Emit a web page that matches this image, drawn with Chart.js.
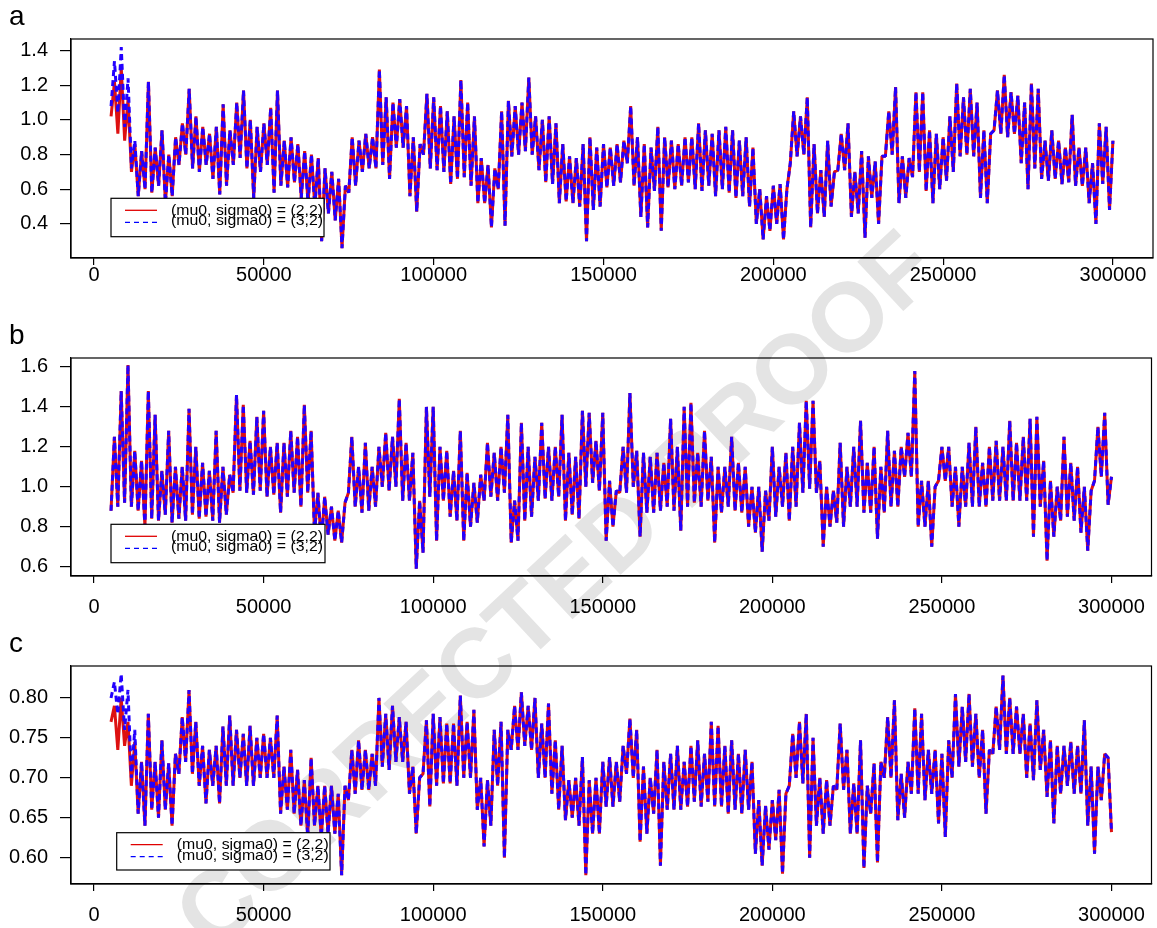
<!DOCTYPE html>
<html>
<head>
<meta charset="utf-8">
<script src="https://cdn.jsdelivr.net/npm/chart.js@4.4.1/dist/chart.umd.min.js"></script>
<style>
  html,body{margin:0;padding:0;background:#fff;}
  body{width:1157px;height:928px;position:relative;overflow:hidden;font-family:"Liberation Sans",Arial,sans-serif;}
  .panel{position:absolute;left:0;width:1157px;height:310px;z-index:1;}
  #watermark{position:absolute;left:555px;top:590px;transform:translate(-50%,-50%) rotate(-43deg);
    font:bold 98px "Liberation Sans",Arial,sans-serif;color:#e4e4e4;white-space:nowrap;z-index:0;}
</style>
</head>
<body>
<div id="watermark">CORRECTED PROOF</div>
<div class="panel" style="top:0px"><canvas id="chartA"></canvas></div>
<div class="panel" style="top:318px"><canvas id="chartB"></canvas></div>
<div class="panel" style="top:626px"><canvas id="chartC"></canvas></div>
<script>
// ================= DATA =================
// trace values, one every 1000 iterations (5000 .. 300000)
const iterStart = 5000;
const iterStep = 1000;
const nPoints = 296;
const iterations = Array.from({length:nPoints},(_,i)=>iterStart+i*iterStep);

const xTicks  = [0,50000,100000,150000,200000,250000,300000];
const yTicksA = [0.4,0.6,0.8,1.0,1.2,1.4];
const yTicksB = [0.6,0.8,1.0,1.2,1.4,1.6];
const yTicksC = [0.60,0.65,0.70,0.75,0.80];

const seriesLabels = ["(mu0, sigma0) = (2,2)","(mu0, sigma0) = (3,2)"];

// panel a -- the two chains only differ in the first 10000 iterations
const startA_22 = [1.02,1.22, 0.92,1.30, 0.88,1.12, 0.70,0.86, 0.56,0.82];
const startA_32 = [1.08,1.34, 1.04,1.42, 0.96,1.24, 0.72,0.88, 0.56,0.82];
const traceA = [
  0.60,1.22, 0.58,0.84, 0.62,0.94, 0.52,0.80, 0.56,0.90,
  0.74,0.98, 0.80,1.18, 0.72,1.02, 0.70,0.96, 0.74,0.92,
  0.66,0.96, 0.57,1.09, 0.62,0.94, 0.74,1.10, 0.78,1.17,
  0.72,1.00, 0.55,0.96, 0.70,0.98, 0.74,1.07, 0.58,1.17,
  0.62,0.88, 0.61,0.90, 0.64,0.86, 0.55,0.82, 0.52,0.80,
  0.50,0.78, 0.30,0.72, 0.46,0.70, 0.42,0.66, 0.26,0.62,
  0.58,0.90, 0.62,0.88, 0.70,0.92, 0.72,0.90, 0.72,1.29,
  0.74,1.13, 0.66,1.10, 0.84,1.12, 0.84,1.08, 0.56,0.90,
  0.47,0.86, 0.80,1.15, 0.72,1.13, 0.71,1.08, 0.70,1.05,
  0.63,1.02, 0.66,1.23, 0.67,1.10, 0.62,1.02, 0.52,0.78,
  0.52,0.74, 0.38,0.72, 0.60,1.05, 0.39,1.11, 0.79,1.08,
  0.80,1.10, 0.82,1.245,0.80,1.02, 0.71,1.00, 0.64,1.02,
  0.63,0.98, 0.52,0.86, 0.53,0.79, 0.52,0.78, 0.50,0.86,
  0.30,0.90, 0.48,0.84, 0.50,0.86, 0.61,0.84, 0.62,0.86,
  0.64,0.88, 0.75,1.08, 0.62,0.90, 0.44,0.86, 0.38,0.84,
  0.59,0.96, 0.36,0.90, 0.61,0.88, 0.60,0.86, 0.62,0.90,
  0.64,0.90, 0.60,0.98, 0.59,0.94, 0.62,0.92, 0.56,0.94,
  0.60,0.96, 0.58,0.94, 0.55,0.88, 0.56,0.90, 0.50,0.84,
  0.40,0.60, 0.31,0.56, 0.36,0.62, 0.40,0.63, 0.31,0.60,
  0.75,1.05, 0.79,1.02, 0.80,1.13, 0.38,0.86, 0.46,0.71,
  0.44,0.88, 0.50,0.70, 0.71,0.92, 0.71,0.98, 0.44,0.70,
  0.46,0.82, 0.32,0.79, 0.55,0.76, 0.40,0.79, 0.79,1.05,
  0.80,1.19, 0.52,0.79, 0.55,0.78, 0.67,1.16, 0.70,1.16,
  0.59,0.94, 0.52,0.92, 0.60,0.90, 0.65,1.02, 0.70,1.21,
  0.79,1.13, 0.80,1.18, 0.79,1.10, 0.55,0.94, 0.52,0.92,
  0.94,1.17, 0.92,1.26, 0.90,1.16, 0.92,1.14, 0.75,1.10,
  0.60,1.21, 0.72,1.18, 0.66,0.88, 0.65,0.94, 0.66,0.88,
  0.63,0.84, 0.64,1.03, 0.62,0.84, 0.62,0.84, 0.52,0.75,
  0.40,0.98, 0.63,0.96, 0.48,0.88
];

// panel b -- both chains overlap over the whole run
const traceB = [
  0.88,1.25, 0.90,1.48, 0.92,1.61, 0.90,1.18, 0.88,1.13,
  0.80,1.48, 0.84,1.36, 0.83,1.08, 0.86,1.28, 0.82,1.10,
  0.84,1.10, 0.83,1.39, 0.86,1.20, 0.84,1.12, 0.85,1.08,
  0.83,1.28, 0.82,1.10, 0.86,1.06, 0.97,1.46, 0.98,1.41,
  0.97,1.23, 0.96,1.35, 0.98,1.38, 0.95,1.20, 0.96,1.22,
  0.87,1.22, 0.95,1.28, 0.97,1.25, 0.90,1.41, 0.97,1.28,
  0.77,0.97, 0.72,0.95, 0.76,0.90, 0.73,0.88, 0.72,0.92,
  0.97,1.25, 0.90,1.10, 0.87,1.22, 0.88,1.10, 0.90,1.20,
  1.00,1.27, 0.98,1.25, 1.00,1.44, 0.93,1.22, 0.93,1.17,
  0.59,0.93, 0.67,1.40, 0.95,1.40, 0.73,1.20, 0.93,1.18,
  0.85,1.08, 0.83,1.28, 0.73,1.07, 0.80,1.02, 0.82,1.06,
  0.93,1.22, 0.95,1.17, 0.93,1.20, 0.97,1.36, 0.72,0.93,
  0.73,1.32, 0.83,1.20, 0.85,1.15, 0.93,1.32, 0.94,1.20,
  0.93,1.20, 0.95,1.36, 0.83,1.17, 0.86,1.15, 0.84,1.38,
  1.00,1.37, 1.02,1.23, 0.98,1.37, 0.73,1.03, 0.80,0.98,
  0.97,1.20, 0.97,1.47, 1.00,1.18, 0.75,1.17, 0.87,1.15,
  0.87,1.17, 0.88,1.12, 0.90,1.34, 0.88,1.20, 0.78,1.40,
  0.90,1.42, 0.92,1.17, 0.90,1.28, 0.93,1.15, 0.72,1.10,
  0.87,1.10, 0.90,1.25, 0.88,1.12, 0.87,1.10, 0.80,1.00,
  0.77,1.00, 0.675,0.98,0.83,1.20, 0.85,1.10, 0.90,1.17,
  0.83,1.20, 0.90,1.32, 0.97,1.43, 0.99,1.43, 0.97,1.13,
  0.70,1.00, 0.80,0.98, 0.82,1.22, 0.80,1.10, 0.90,1.20,
  0.90,1.33, 0.87,1.12, 0.87,1.20, 0.74,1.10, 0.87,1.28,
  0.90,1.18, 0.90,1.20, 1.05,1.27, 1.05,1.58, 0.80,1.03,
  0.80,1.03, 0.70,1.00, 1.03,1.20, 1.03,1.20, 0.90,1.10,
  0.80,1.10, 0.90,1.22, 0.90,1.30, 0.90,1.12, 0.90,1.20,
  0.93,1.23, 0.93,1.20, 0.93,1.33, 0.93,1.22, 0.93,1.25,
  0.93,1.34, 0.75,1.35, 0.90,1.13, 0.63,1.03, 0.75,1.00,
  0.83,1.25, 0.85,1.12, 0.83,1.10, 0.77,1.00, 0.68,0.98,
  1.03,1.30, 1.05,1.37, 0.91,1.05
];

// panel c -- chains differ in the first 10000 iterations
const startC_22 = [0.77,0.79, 0.735,0.80, 0.74,0.77, 0.69,0.745, 0.655,0.72];
const startC_32 = [0.80,0.82, 0.78,0.83, 0.76,0.81, 0.70,0.76, 0.655,0.72];
const traceC = [
  0.64,0.78, 0.66,0.72, 0.65,0.747, 0.66,0.718, 0.64,0.73,
  0.705,0.776, 0.72,0.81, 0.705,0.77, 0.69,0.74, 0.668,0.735,
  0.69,0.74, 0.668,0.764, 0.69,0.778, 0.69,0.76, 0.70,0.755,
  0.69,0.765, 0.69,0.75, 0.70,0.755, 0.70,0.75, 0.70,0.778,
  0.655,0.714, 0.66,0.735, 0.655,0.71, 0.64,0.697, 0.626,0.725,
  0.64,0.69, 0.626,0.69, 0.63,0.69, 0.63,0.68, 0.578,0.69,
  0.672,0.735, 0.68,0.747, 0.685,0.735, 0.685,0.73, 0.69,0.80,
  0.714,0.78, 0.71,0.79, 0.72,0.776, 0.72,0.77, 0.68,0.714,
  0.63,0.70, 0.705,0.772, 0.664,0.78, 0.69,0.776, 0.693,0.768,
  0.693,0.768, 0.69,0.803, 0.70,0.77, 0.70,0.785, 0.66,0.70,
  0.614,0.697, 0.64,0.76, 0.69,0.77, 0.60,0.76, 0.735,0.79,
  0.735,0.807, 0.74,0.79, 0.735,0.80, 0.70,0.768, 0.70,0.793,
  0.68,0.747, 0.66,0.74, 0.647,0.697, 0.65,0.70, 0.64,0.726,
  0.578,0.697, 0.63,0.70, 0.63,0.72, 0.664,0.726, 0.664,0.72,
  0.67,0.74, 0.705,0.774, 0.70,0.76, 0.62,0.714, 0.63,0.70,
  0.655,0.735, 0.59,0.72, 0.66,0.73, 0.66,0.74, 0.66,0.72,
  0.664,0.74, 0.67,0.747, 0.664,0.73, 0.67,0.77, 0.664,0.765,
  0.664,0.74, 0.655,0.747, 0.66,0.73, 0.655,0.735, 0.66,0.72,
  0.605,0.672, 0.59,0.665, 0.61,0.672, 0.622,0.685, 0.58,0.68,
  0.69,0.755, 0.70,0.77, 0.693,0.78, 0.60,0.75, 0.64,0.70,
  0.63,0.697, 0.64,0.69, 0.685,0.768, 0.685,0.735, 0.63,0.693,
  0.63,0.747, 0.587,0.69, 0.655,0.718, 0.594,0.72, 0.70,0.776,
  0.70,0.797, 0.647,0.705, 0.65,0.72, 0.68,0.787, 0.68,0.78,
  0.672,0.735, 0.68,0.735, 0.643,0.73, 0.626,0.747, 0.70,0.805,
  0.714,0.789, 0.72,0.805, 0.714,0.78, 0.70,0.76, 0.655,0.735,
  0.73,0.789, 0.735,0.828, 0.73,0.80, 0.73,0.789, 0.73,0.78,
  0.70,0.768, 0.697,0.797, 0.71,0.76, 0.676,0.747, 0.643,0.74,
  0.68,0.74, 0.69,0.745, 0.68,0.74, 0.68,0.772, 0.64,0.714,
  0.605,0.714, 0.672,0.73, 0.725,0.632
];

// ================= CHART ENGINE =================

const FONT = '"Liberation Sans", Arial, sans-serif';

function toPoints(values){
    return values.map((v,i)=>({x:iterations[i], y:v}));
}

// R-like frame, panel letter and boxed legend
const rFrame = {
    id:'rframe',
    afterDatasetsDraw(chart,args,opts){
        const {ctx, chartArea:a} = chart;
        const L = opts.legend;
        const x0 = a.left + L.dx, y0 = a.top + L.dy;
        ctx.save();
        ctx.fillStyle = '#fff';
        ctx.fillRect(x0,y0,L.w,L.h);
        ctx.strokeStyle = '#000';
        ctx.lineWidth = 1.2;
        ctx.strokeRect(x0,y0,L.w,L.h);

        ctx.lineWidth = 1.3;
        ctx.strokeStyle = '#e00000';
        ctx.beginPath(); ctx.moveTo(x0+14,y0+12); ctx.lineTo(x0+46,y0+12); ctx.stroke();
        ctx.strokeStyle = '#0000ff';
        ctx.setLineDash([5,4]);
        ctx.beginPath(); ctx.moveTo(x0+14,y0+24); ctx.lineTo(x0+46,y0+24); ctx.stroke();
        ctx.setLineDash([]);

        ctx.fillStyle = '#000';
        ctx.font = '15px ' + FONT;
        ctx.textBaseline = 'middle';
        seriesLabels.forEach((t,i)=>{
            const sx = 152 / ctx.measureText(t).width;
            ctx.save();
            ctx.translate(x0+60, y0+12.5+i*10.5);
            ctx.scale(sx,1);
            ctx.fillText(t,0,0);
            ctx.restore();
        });
        ctx.restore();
    },
    afterDraw(chart,args,opts){
        const {ctx, chartArea:a} = chart;
        ctx.save();
        ctx.strokeStyle = '#000';
        ctx.lineWidth = 1.2;
        ctx.strokeRect(a.left,a.top,a.right-a.left,a.bottom-a.top);
        ctx.fillStyle = '#000';
        ctx.font = '28px ' + FONT;
        ctx.textBaseline = 'alphabetic';
        ctx.fillText(opts.letter, 9, a.top-14);
        ctx.restore();
    }
};

const panels = [
    {id:'chartA', letter:'a', red:startA_22.concat(traceA), blue:startA_32.concat(traceA),
     yMin:0.203, yMax:1.467, yTicks:yTicksA, dec:1, padTop:39, xPad:-2,
     legend:{dx:40, dy:159.3, w:213, h:38.4}},
    {id:'chartB', letter:'b', red:traceB, blue:traceB,
     yMin:0.553, yMax:1.645, yTicks:yTicksB, dec:1, padTop:40, xPad:12,
     legend:{dx:40, dy:166.3, w:214, h:38.4}},
    {id:'chartC', letter:'c', red:startC_22.concat(traceC), blue:startC_32.concat(traceC),
     yMin:0.567, yMax:0.840, yTicks:yTicksC, dec:2, padTop:40, xPad:12,
     legend:{dx:45.7, dy:166.7, w:213.3, h:37.3}}
];

function buildPanel(p){
    const ctx = document.getElementById(p.id).getContext('2d');
    return new Chart(ctx,{
        type:'line',
        data:{
            datasets:[
                {label:seriesLabels[1], data:toPoints(p.blue), borderColor:'#2200ff',
                 borderWidth:3, borderDash:[6,4], borderJoinStyle:'bevel', pointRadius:0, tension:0},
                {label:seriesLabels[0], data:toPoints(p.red), borderColor:'#dd1111',
                 borderWidth:3, borderJoinStyle:'bevel', pointRadius:0, tension:0}
            ]
        },
        options:{
            animation:false,
            responsive:true,
            maintainAspectRatio:false,
            events:[],
            layout:{padding:{top:p.padTop, right:4, left:0, bottom:0}},
            scales:{
                x:{
                    type:'linear', min:-6800, max:311800,
                    afterBuildTicks(s){ s.ticks = xTicks.map(v=>({value:v})); },
                    afterFit(s){ s.height = 52; },
                    grid:{drawOnChartArea:false, drawTicks:true, tickLength:7, color:'#000', lineWidth:1.2},
                    border:{display:true, color:'#000', width:1.2},
                    ticks:{color:'#000', font:{family:FONT, size:20}, padding:p.xPad,
                           autoSkip:false, maxRotation:0, callback:v=>String(v)}
                },
                y:{
                    min:p.yMin, max:p.yMax,
                    afterBuildTicks(s){ s.ticks = p.yTicks.map(v=>({value:v})); },
                    afterFit(s){ s.width = 71; },
                    grid:{drawOnChartArea:false, drawTicks:true, tickLength:11, color:'#000', lineWidth:1.2},
                    border:{display:true, color:'#000', width:1.2},
                    ticks:{color:'#000', font:{family:FONT, size:20}, padding:12,
                           callback:v=>Number(v).toFixed(p.dec)}
                }
            },
            plugins:{
                legend:{display:false},
                tooltip:{enabled:false},
                rframe:{letter:p.letter, legend:p.legend}
            }
        },
        plugins:[rFrame]
    });
}

document.addEventListener("DOMContentLoaded",()=>{
    panels.forEach(buildPanel);
});
</script>
</body>
</html>
